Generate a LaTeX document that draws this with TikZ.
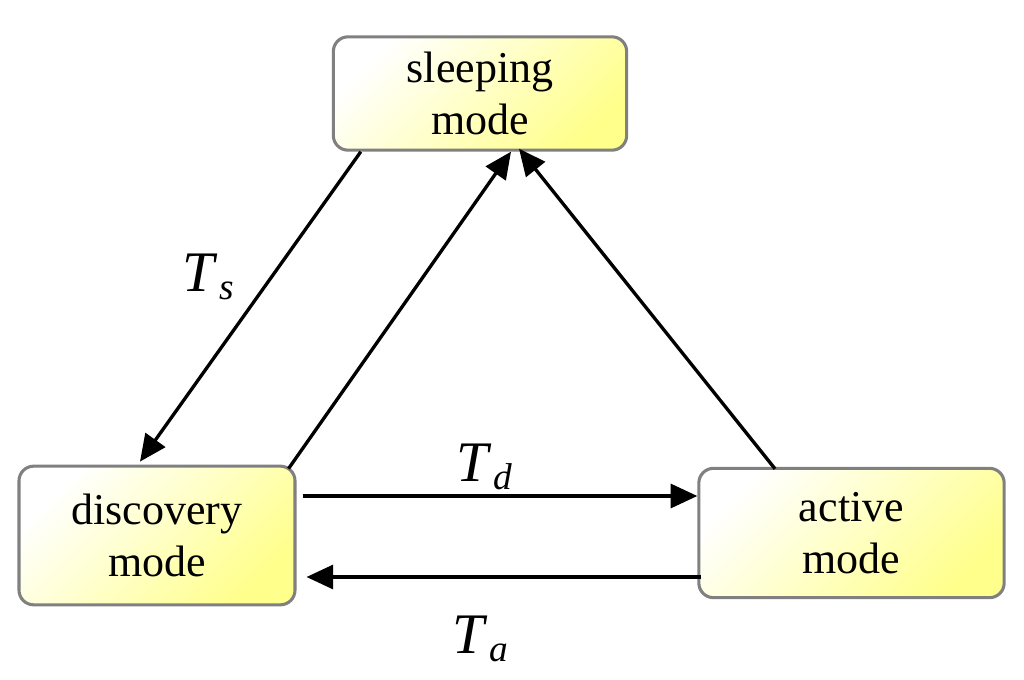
\documentclass[tikz,border=0pt]{standalone}
\usepackage{fontspec}
\setmainfont{Liberation Serif}
\usetikzlibrary{positioning, arrows.meta, calc}
\definecolor{BoxLine}{HTML}{808080}
\definecolor{BoxFill}{HTML}{FFFF8C}
\tikzset{
  mode/.style={draw=BoxLine, line width=2.3pt, rounded corners=11pt, align=center,
               font=\fontsize{33}{39}\selectfont, inner sep=0pt,
               left color=white, middle color=BoxFill!45!white, right color=BoxFill,
               shading angle=45},
  arr/.style={-{Triangle[length=20pt, width=18pt]}, line width=2.5pt},
  lbl/.style={inner sep=0pt, font=\fontsize{43}{43}\selectfont},
}
\newcommand{\tlab}[1]{\textit{T}\kern1pt\raisebox{-6pt}{\fontsize{28}{28}\selectfont\textit{#1}}}

\begin{document}
\begin{tikzpicture}[x=0.75pt, y=-0.75pt]
  \useasboundingbox (0,0) rectangle (1024,680);

  % ---- the three modes ----
  \node[mode, minimum width=220pt, minimum height=85pt]  (sleep) at (480,93.5)  {sleeping\\mode};
  \node[mode, minimum width=207pt, minimum height=104pt] (disc)  at (157,535.5) {discovery\\mode};
  \node[mode, minimum width=229pt, minimum height=97pt]  (act)   at (851.5,533) {active\\mode};

  % ---- transitions ----
  \draw[arr] ($(sleep.south west)+(29,0)$) -- node[lbl, pos=0.405, left=27pt]{\tlab{s}}
       ($(disc.north)+(-17,-3)$);
  \draw[arr] ($(disc.north east)+(-8,4)$) -- ($(sleep.south)+(31,0)$);
  \draw[arr] ($(act.north)+(-76.5,2)$) -- ($(sleep.south)+(39,-3)$);
  \draw[arr] ($(disc.east)+(6,-39.5)$) -- node[lbl, pos=0.46, above=3pt]{\tlab{d}}
       ($(act.west)+(0,-37)$);
  \draw[arr] ($(act.west)+(4,44)$) -- node[lbl, pos=0.56, below=28pt]{\tlab{a}}
       ($(disc.east)+(10,41.5)$);
\end{tikzpicture}
\end{document}
